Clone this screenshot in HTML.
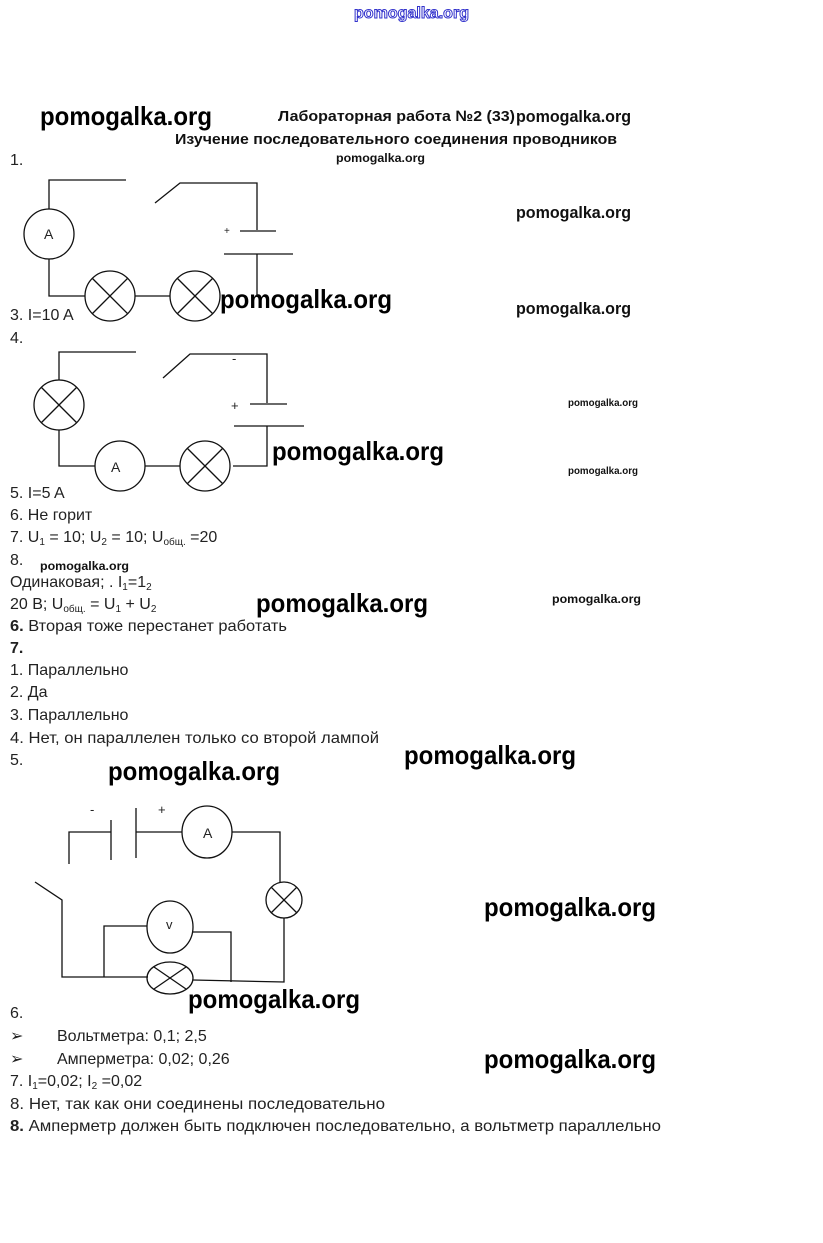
<!DOCTYPE html>
<html><head><meta charset="utf-8"><style>
html,body{margin:0;padding:0;background:#fff;}
svg{display:block;}
text{font-family:"Liberation Sans","DejaVu Sans",sans-serif;}
.t{font-size:16px;fill:#222;}
.wb{font-size:26px;font-weight:bold;fill:#000;}
.wm{font-size:17px;font-weight:bold;fill:#111;}
.ws{font-size:12px;font-weight:bold;fill:#111;}
.h{font-size:15px;font-weight:bold;fill:#111;}
</style></head><body>
<svg width="823" height="1243" viewBox="0 0 823 1243" xmlns="http://www.w3.org/2000/svg">
<text x="354" y="18" textLength="115" lengthAdjust="spacingAndGlyphs" style="font-size:16px;fill:#fff;stroke:#33c;stroke-width:1;font-weight:bold">pomogalka.org</text>

<text x="40" y="125" class="wb" textLength="172" lengthAdjust="spacingAndGlyphs">pomogalka.org</text>
<text x="278" y="121" class="h" textLength="237" lengthAdjust="spacingAndGlyphs">Лабораторная работа №2 (33)</text>
<text x="516" y="122" class="wm" textLength="115" lengthAdjust="spacingAndGlyphs">pomogalka.org</text>
<text x="175" y="144" class="h" textLength="442" lengthAdjust="spacingAndGlyphs">Изучение последовательного соединения проводников</text>
<text x="336" y="162" class="ws" textLength="89" lengthAdjust="spacingAndGlyphs">pomogalka.org</text>
<text x="516" y="218" class="wm" textLength="115" lengthAdjust="spacingAndGlyphs">pomogalka.org</text>
<text x="516" y="314" class="wm" textLength="115" lengthAdjust="spacingAndGlyphs">pomogalka.org</text>
<text x="220" y="308" class="wb" textLength="172" lengthAdjust="spacingAndGlyphs">pomogalka.org</text>
<text x="272" y="460" class="wb" textLength="172" lengthAdjust="spacingAndGlyphs">pomogalka.org</text>
<text x="568" y="406" class="ws" style="font-size:10px" textLength="70" lengthAdjust="spacingAndGlyphs">pomogalka.org</text>
<text x="568" y="474" class="ws" style="font-size:10px" textLength="70" lengthAdjust="spacingAndGlyphs">pomogalka.org</text>
<text x="40" y="570" class="ws" textLength="89" lengthAdjust="spacingAndGlyphs">pomogalka.org</text>
<text x="552" y="603" class="ws" textLength="89" lengthAdjust="spacingAndGlyphs">pomogalka.org</text>
<text x="256" y="612" class="wb" textLength="172" lengthAdjust="spacingAndGlyphs">pomogalka.org</text>
<text x="404" y="764" class="wb" textLength="172" lengthAdjust="spacingAndGlyphs">pomogalka.org</text>
<text x="108" y="780" class="wb" textLength="172" lengthAdjust="spacingAndGlyphs">pomogalka.org</text>
<text x="484" y="916" class="wb" textLength="172" lengthAdjust="spacingAndGlyphs">pomogalka.org</text>
<text x="188" y="1008" class="wb" textLength="172" lengthAdjust="spacingAndGlyphs">pomogalka.org</text>
<text x="484" y="1068" class="wb" textLength="172" lengthAdjust="spacingAndGlyphs">pomogalka.org</text>

<g class="t">
<text x="10" y="165" class="t">1.</text>
<text x="10" y="320" class="t">3. I=10 A</text>
<text x="10" y="343" class="t">4.</text>
<text x="10" y="498" class="t">5. I=5 A</text>
<text x="10" y="520" class="t">6.  Не горит</text>
<text x="10" y="542" class="t">7. U<tspan font-size="10" dy="3">1</tspan><tspan dy="-3"> = 10; U</tspan><tspan font-size="10" dy="3">2</tspan><tspan dy="-3"> = 10; U</tspan><tspan font-size="10" dy="3">общ.</tspan><tspan dy="-3"> =20</tspan></text>
<text x="10" y="565" class="t">8.</text>
<text x="10" y="587" class="t">Одинаковая; . I<tspan font-size="10" dy="3">1</tspan><tspan dy="-3">=1</tspan><tspan font-size="10" dy="3">2</tspan></text>
<text x="10" y="609" class="t">20 В; U<tspan font-size="10" dy="3">общ.</tspan><tspan dy="-3"> = U</tspan><tspan font-size="10" dy="3">1</tspan><tspan dy="-3"> + U</tspan><tspan font-size="10" dy="3">2</tspan></text>
<text x="10" y="631" class="t" textLength="277" lengthAdjust="spacingAndGlyphs"><tspan font-weight="bold">6.</tspan> Вторая тоже перестанет работать</text>
<text x="10" y="653" class="t" font-weight="bold">7.</text>
<text x="10" y="675" class="t">1. Параллельно</text>
<text x="10" y="697" class="t">2. Да</text>
<text x="10" y="720" class="t">3. Параллельно</text>
<text x="10" y="743" class="t" textLength="369" lengthAdjust="spacingAndGlyphs">4. Нет, он параллелен только со второй лампой</text>
<text x="10" y="765" class="t">5.</text>
<text x="10" y="1018" class="t">6.</text>
<text x="10" y="1041" class="t">➢</text><text x="57" y="1041" class="t">Вольтметра: 0,1;  2,5</text>
<text x="10" y="1064" class="t">➢</text><text x="57" y="1064" class="t" fill="#888">Амперметра: 0,02; 0,26</text>
<text x="10" y="1086" class="t">7.  I<tspan font-size="10" dy="3">1</tspan><tspan dy="-3">=0,02; I</tspan><tspan font-size="10" dy="3">2</tspan><tspan dy="-3"> =0,02</tspan></text>
<text x="10" y="1109" class="t" textLength="375" lengthAdjust="spacingAndGlyphs">8.  Нет, так как они соединены последовательно</text>
<text x="10" y="1131" class="t" textLength="651" lengthAdjust="spacingAndGlyphs"><tspan font-weight="bold">8.</tspan> Амперметр должен быть подключен последовательно, а вольтметр параллельно</text>
</g>

<g stroke="#111" stroke-width="1.3" fill="none">
<circle cx="49" cy="234" r="25"/>
<polyline points="49,209 49,180 126,180"/>
<polyline points="155,203 180,183 257,183 257,230"/>
<line x1="240" y1="231" x2="276" y2="231"/>
<line x1="224" y1="254" x2="293" y2="254"/>
<line x1="257" y1="254" x2="257" y2="296"/>
<polyline points="49,259 49,296 85,296"/>
<circle cx="110" cy="296" r="25"/>
<line x1="92" y1="278" x2="128" y2="314"/><line x1="128" y1="278" x2="92" y2="314"/>
<line x1="135" y1="296" x2="170" y2="296"/>
<circle cx="195" cy="296" r="25"/>
<line x1="177" y1="278" x2="213" y2="314"/><line x1="213" y1="278" x2="177" y2="314"/>
<circle cx="59" cy="405" r="25"/>
<line x1="41" y1="387" x2="77" y2="423"/><line x1="77" y1="387" x2="41" y2="423"/>
<polyline points="59,380 59,352 136,352"/>
<polyline points="163,378 190,354 267,354 267,403"/>
<line x1="250" y1="404" x2="287" y2="404"/>
<line x1="234" y1="426" x2="304" y2="426"/>
<polyline points="267,426 267,466 233,466"/>
<polyline points="59,430 59,466 95,466"/>
<circle cx="120" cy="466" r="25"/>
<line x1="145" y1="466" x2="180" y2="466"/>
<circle cx="205" cy="466" r="25"/>
<line x1="187" y1="448" x2="223" y2="484"/><line x1="223" y1="448" x2="187" y2="484"/>
<polyline points="69,864 69,832 111,832"/>
<line x1="111" y1="820" x2="111" y2="860"/>
<line x1="136" y1="808" x2="136" y2="858"/>
<line x1="136" y1="832" x2="182" y2="832"/>
<ellipse cx="207" cy="832" rx="25" ry="26"/>
<polyline points="232,832 280,832 280,882"/>
<circle cx="284" cy="900" r="18"/>
<line x1="271" y1="887" x2="297" y2="913"/><line x1="297" y1="887" x2="271" y2="913"/>
<polyline points="284,918 284,982 193,980"/>
<polyline points="35,882 62,900 62,977 148,977"/>
<ellipse cx="170" cy="978" rx="23" ry="16"/>
<line x1="154" y1="967" x2="186" y2="989"/><line x1="186" y1="967" x2="154" y2="989"/>
<ellipse cx="170" cy="927" rx="23" ry="26"/>
<polyline points="147,926 104,926 104,977"/>
<polyline points="193,932 231,932 231,982"/>
</g>
<g class="t" style="font-size:14px">
<text x="44" y="239">A</text>
<text x="111" y="472">A</text>
<text x="203" y="838">A</text>
<text x="166" y="929" style="font-size:13px">v</text>
<text x="224" y="234" style="font-size:10px">+</text>
<text x="232" y="363" style="font-size:13px">-</text>
<text x="231" y="410" style="font-size:13px">+</text>
<text x="90" y="814" style="font-size:13px">-</text>
<text x="158" y="814" style="font-size:13px">+</text>
</g>
</svg>
</body></html>
